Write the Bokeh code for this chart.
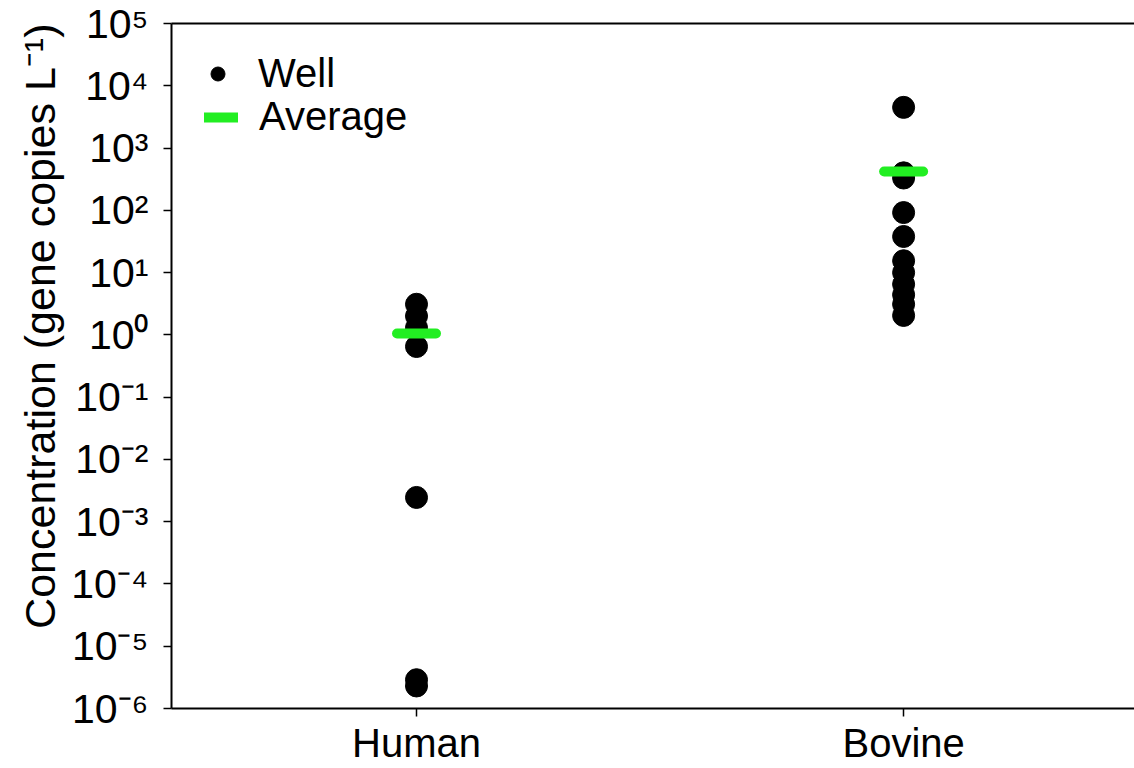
from bokeh.plotting import figure
from bokeh.models import (Range1d, FixedTicker, LinearAxis, Legend, LegendItem,
                          ColumnDataSource, Title)
from bokeh.embed import file_html
from bokeh.resources import INLINE

# ---------------- data ----------------
categories = ["Human", "Bovine"]
human_wells = [3.1, 2.0, 1.3, 0.65, 2.45e-3, 2.9e-6, 2.3e-6]
bovine_wells = [4500, 400, 330, 92, 38, 15.5, 10, 6.5, 4.4, 3.1, 2.05]
averages = [1.05, 420]
y_tick_values = [1e-6, 1e-5, 1e-4, 1e-3, 1e-2, 1e-1, 1e0, 1e1, 1e2, 1e3, 1e4, 1e5]
y_tick_labels = ["10⁻⁶", "10⁻⁵", "10⁻⁴", "10⁻³", "10⁻²", "10⁻¹",
                 "10⁰", "10¹", "10²", "10³", "10⁴", "10⁵"]
y_title = "Concentration (gene copies L⁻¹)"

FONT = "Liberation Sans"
GREEN = "#22ee22"
BAR_HALF = 0.04  # half length of the average bar, in category units

positions = {c: i + 1 for i, c in enumerate(categories)}
well_x = [positions["Human"]] * len(human_wells) + [positions["Bovine"]] * len(bovine_wells)
well_y = human_wells + bovine_wells
well_src = ColumnDataSource(dict(x=well_x, y=well_y))

avg_x = [positions[c] for c in categories]
avg_src = ColumnDataSource(dict(
    x0=[x - BAR_HALF for x in avg_x],
    x1=[x + BAR_HALF for x in avg_x],
    y=averages,
))

p = figure(width=1134, height=768, y_axis_type="log",
           x_range=Range1d(0.497, 2.474), y_range=Range1d(1e-6, 1e5),
           output_backend="svg", toolbar_location=None,
           min_border_left=171, min_border_right=0,
           min_border_top=23, min_border_bottom=60)
p.outline_line_color = None
p.xgrid.visible = False
p.ygrid.visible = False
p.background_fill_color = "white"
p.border_fill_color = "white"

r_well = p.scatter("x", "y", source=well_src, size=22, marker="circle",
                   fill_color="black", line_color="black")
r_avg = p.segment(x0="x0", y0="y", x1="x1", y1="y", source=avg_src,
                  line_color=GREEN, line_width=10, line_cap="round")

# bottom axis
xa = p.below[0]
xa.ticker = FixedTicker(ticks=avg_x)
xa.major_label_overrides = {positions[c]: c for c in categories}
xa.major_tick_out = 8
xa.major_tick_in = 0
xa.major_tick_line_width = 1.5
xa.minor_tick_line_color = None
xa.axis_line_width = 2
xa.major_label_text_font = FONT
xa.major_label_text_font_size = "40px"
xa.major_label_text_color = "black"
xa.major_label_standoff = 4

# left axis
ya = p.left[0]
ya.ticker = FixedTicker(ticks=y_tick_values, minor_ticks=[])
ya.major_label_overrides = dict(zip(y_tick_values, y_tick_labels))
ya.major_tick_out = 8
ya.major_tick_in = 0
ya.major_tick_line_width = 1.5
ya.minor_tick_line_color = None
ya.axis_line_width = 2
ya.major_label_text_font = FONT
ya.major_label_text_font_size = "41px"
ya.major_label_text_color = "black"
ya.major_label_standoff = 15

# y-axis title as a left-side title, its end aligned with the top of the axis
ytitle = Title(text=y_title, align="right", offset=0, standoff=10,
               text_font=FONT, text_font_size="43px",
               text_font_style="normal", text_color="black")
p.add_layout(ytitle, "left")

# top frame line
top = LinearAxis(ticker=FixedTicker(ticks=[]), axis_line_width=2,
                 major_tick_line_color=None, minor_tick_line_color=None,
                 major_label_text_font_size="0px")
p.add_layout(top, "above")

common = dict(padding=0, margin=0, spacing=0, border_line_color=None,
              background_fill_alpha=0, label_text_font=FONT,
              label_text_font_size="40px", label_text_color="black")
leg1 = Legend(items=[LegendItem(label="Well", renderers=[r_well])],
              location=(29, 612), glyph_width=35, glyph_height=35,
              label_standoff=23, **common)
leg2 = Legend(items=[LegendItem(label="Average", renderers=[r_avg])],
              location=(33, 569), glyph_width=34, glyph_height=20,
              label_standoff=21, **common)
p.add_layout(leg1)
p.add_layout(leg2)

open("out.html", "w").write(file_html(p, INLINE))
